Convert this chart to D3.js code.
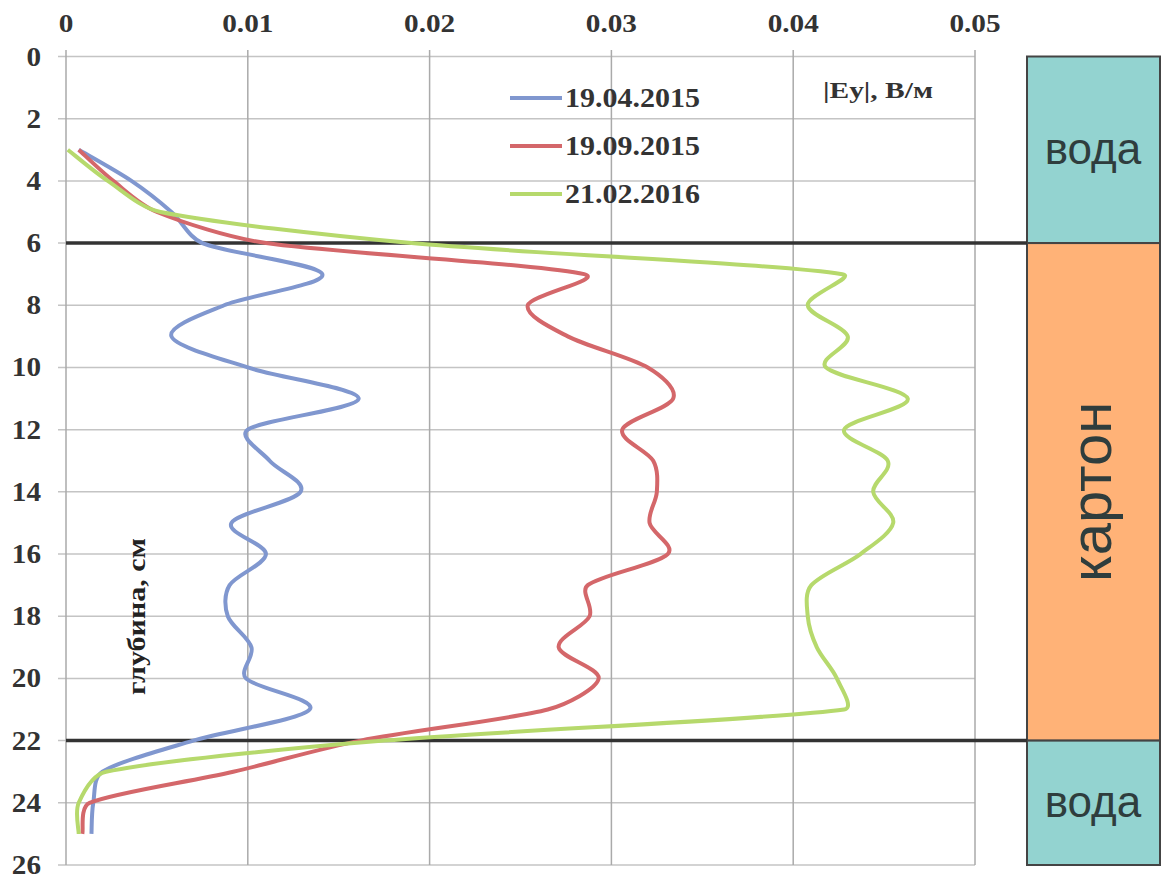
<!DOCTYPE html>
<html>
<head>
<meta charset="utf-8">
<script src="https://cdn.jsdelivr.net/npm/d3@7"></script>
<style>
  body { margin: 0; background: #fff; }
  svg { display: block; }
</style>
</head>
<body>
<svg id="chart"></svg>
<script>
const W = 1162, H = 879;

// depth, cm (one value per curve point)
const depths = [3, 4, 5, 6, 7, 8, 9, 10, 11, 12, 13, 14, 15, 16, 17, 18, 19, 20, 21, 22, 23, 24, 25];

// |Ey|, V/m
const ey_2015_04 = [0.0007, 0.0036, 0.0058, 0.0075, 0.0141, 0.0087, 0.0058, 0.0100, 0.0161, 0.0100, 0.0112, 0.0129,
  0.0091, 0.0110, 0.0090, 0.0089, 0.0102, 0.0099, 0.0134, 0.0070, 0.0020, 0.0015, 0.0014];
const ey_2015_09 = [0.0007, 0.0026, 0.0050, 0.0110, 0.0285, 0.0254, 0.0276, 0.0320, 0.0334, 0.0306, 0.0323, 0.0325,
  0.0321, 0.0331, 0.0287, 0.0288, 0.0271, 0.0293, 0.0265, 0.0162, 0.0092, 0.0013, 0.0009];
const ey_2016_02 = [0.0001, 0.0023, 0.0052, 0.0190, 0.0427, 0.0408, 0.0430, 0.0418, 0.0463, 0.0428, 0.0452, 0.0444,
  0.0455, 0.0437, 0.0410, 0.0408, 0.0413, 0.0424, 0.0428, 0.0175, 0.0022, 0.0007, 0.0007];

const seriesNames = ["19.04.2015", "19.09.2015", "21.02.2016"];
const seriesColors = ["#8097cf", "#d4676a", "#b6d96c"];
const seriesValues = [ey_2015_04, ey_2015_09, ey_2016_02];

const xTicks = [0, 0.01, 0.02, 0.03, 0.04, 0.05];
const yTicks = [0, 2, 4, 6, 8, 10, 12, 14, 16, 18, 20, 22, 24, 26];

// layers on the right (depth ranges)
const layers = [
  { name: "вода", from: 0, to: 6, color: "#93d3d0" },
  { name: "картон", from: 6, to: 22, color: "#ffb277" },
  { name: "вода", from: 22, to: 26, color: "#93d3d0" },
];
const boundaries = [6, 22];

const svg = d3.select("#chart").attr("width", W).attr("height", H);

const x = d3.scaleLinear().domain([0, 0.05]).range([66, 975]);
const y = d3.scaleLinear().domain([0, 26]).range([56.5, 865]);

const serif = "'Liberation Serif', 'Times New Roman', serif";
const sans = "'Liberation Sans', Arial, sans-serif";

// smoothed line like a spreadsheet one: catmull-rom tangents,
// but the handle never gets longer than a third of its segment
function curveSmooth(context) {
  let pts;
  return {
    areaStart() {}, areaEnd() {},
    lineStart() { pts = []; },
    point(px, py) { pts.push([+px, +py]); },
    lineEnd() {
      const n = pts.length;
      if (!n) return;
      context.moveTo(pts[0][0], pts[0][1]);
      const tan = pts.map((p, i) => {
        const a = pts[Math.max(0, i - 1)], b = pts[Math.min(n - 1, i + 1)];
        return [(b[0] - a[0]) / 6, (b[1] - a[1]) / 6];
      });
      for (let i = 0; i < n - 1; i++) {
        const p0 = pts[i], p1 = pts[i + 1];
        const len = Math.hypot(p1[0] - p0[0], p1[1] - p0[1]);
        const t0 = tan[i], t1 = tan[i + 1];
        const s0 = Math.min(1, len / 3 / (Math.hypot(t0[0], t0[1]) || 1));
        const s1 = Math.min(1, len / 3 / (Math.hypot(t1[0], t1[1]) || 1));
        context.bezierCurveTo(
          p0[0] + t0[0] * s0, p0[1] + t0[1] * s0,
          p1[0] - t1[0] * s1, p1[1] - t1[1] * s1,
          p1[0], p1[1]);
      }
    }
  };
}

// grid
svg.append("g").selectAll("line").data(yTicks).join("line")
  .attr("x1", 58).attr("x2", x(0.05))
  .attr("y1", d => y(d)).attr("y2", d => y(d))
  .attr("stroke", "#c4c4c4").attr("stroke-width", 1.5);
svg.append("g").selectAll("line").data(xTicks).join("line")
  .attr("x1", d => x(d)).attr("x2", d => x(d))
  .attr("y1", 50).attr("y2", y(26))
  .attr("stroke", "#aaaaaa").attr("stroke-width", 1.5);

// tick labels (the source text is a bit wide, hence the scaleX)
svg.append("g").selectAll("text").data(xTicks).join("text")
  .attr("transform", d => `translate(${x(d)},32) scale(1.17,1)`)
  .attr("text-anchor", "middle")
  .style("font-family", serif).style("font-weight", "bold").style("font-size", "25px")
  .attr("fill", "#333")
  .text(d => d === 0 ? "0" : d3.format(".2f")(d));
svg.append("g").selectAll("text").data(yTicks).join("text")
  .attr("transform", d => `translate(41,${y(d) + 9}) scale(1.08,1)`)
  .attr("text-anchor", "end")
  .style("font-family", serif).style("font-weight", "bold").style("font-size", "27px")
  .attr("fill", "#333")
  .text(d => d);

// layer boxes
const box = svg.append("g");
box.selectAll("rect").data(layers).join("rect")
  .attr("x", 1027).attr("width", 133)
  .attr("y", d => y(d.from)).attr("height", d => y(d.to) - y(d.from))
  .attr("fill", d => d.color).attr("stroke", "#444").attr("stroke-width", 2);
box.selectAll("text").data(layers).join("text")
  .attr("transform", d => {
    const cx = 1093, cy = (y(d.from) + y(d.to)) / 2;
    return d.name === "картон" ? `translate(${cx + 18},${cy}) rotate(-90)` : `translate(${cx},${cy + 14})`;
  })
  .attr("text-anchor", "middle")
  .style("font-family", sans)
  .style("font-size", d => d.name === "картон" ? "58px" : "44px")
  .attr("fill", "#2f3d3d")
  .text(d => d.name);

// boundary lines
svg.append("g").selectAll("line").data(boundaries).join("line")
  .attr("x1", x(0)).attr("x2", 1027)
  .attr("y1", d => y(d)).attr("y2", d => y(d))
  .attr("stroke", "#333").attr("stroke-width", 3.5);

// curves
const line = d3.line()
  .x(d => x(d[1]))
  .y(d => y(d[0]))
  .curve(curveSmooth);

svg.append("g").selectAll("path").data(seriesValues).join("path")
  .attr("d", vals => line(depths.map((dp, i) => [dp, vals[i]])))
  .attr("fill", "none")
  .attr("stroke", (d, i) => seriesColors[i])
  .attr("stroke-width", 4)
  .attr("stroke-linejoin", "round");

// legend
const legendY = [98, 146, 194];
const lg = svg.append("g").selectAll("g").data(seriesNames).join("g")
  .attr("transform", (d, i) => `translate(510,${legendY[i]})`);
lg.append("line").attr("x1", 0).attr("x2", 52)
  .attr("stroke", (d, i) => seriesColors[i]).attr("stroke-width", 4);
lg.append("text").attr("x", 55).attr("y", 9)
  .attr("textLength", 135).attr("lengthAdjust", "spacingAndGlyphs")
  .style("font-family", serif).style("font-weight", "bold").style("font-size", "27px")
  .attr("fill", "#333")
  .text(d => d);

// axis titles
svg.append("text").attr("x", 823).attr("y", 98)
  .attr("textLength", 110).attr("lengthAdjust", "spacingAndGlyphs")
  .style("font-family", serif).style("font-weight", "bold").style("font-size", "23px")
  .attr("fill", "#333")
  .text("|Eу|, В/м");
svg.append("text").attr("transform", "translate(145,695) rotate(-90)")
  .attr("textLength", 157).attr("lengthAdjust", "spacingAndGlyphs")
  .style("font-family", serif).style("font-weight", "bold").style("font-size", "25px")
  .attr("fill", "#222")
  .text("глубина, см");
</script>
</body>
</html>
